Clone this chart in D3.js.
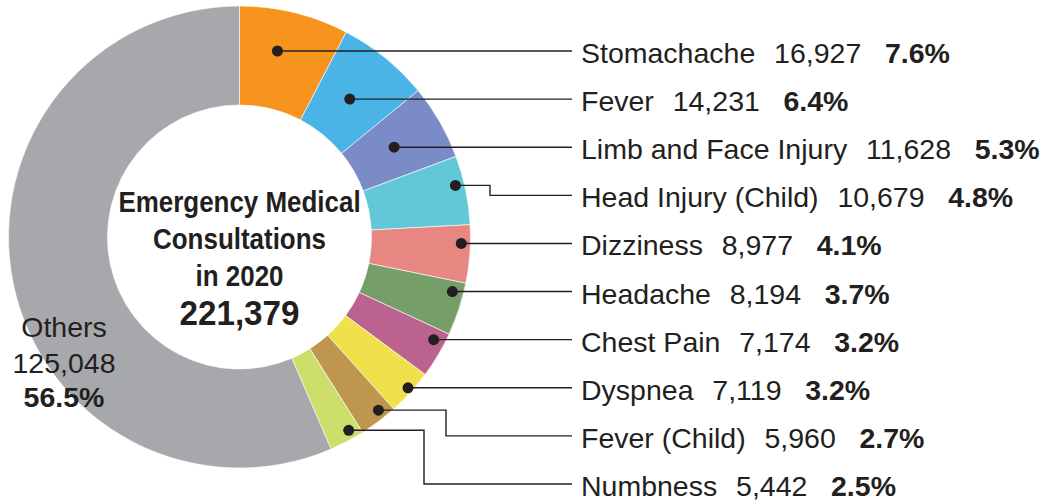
<!DOCTYPE html>
<html>
<head>
<meta charset="utf-8">
<script src="https://cdn.jsdelivr.net/npm/d3@7"></script>
<style>
  html, body { margin: 0; padding: 0; background: #ffffff; }
  svg { display: block; }
  text { font-family: "Liberation Sans", Arial, Helvetica, sans-serif; fill: #231F20; }
</style>
</head>
<body>
<svg id="chart" width="1048" height="501"></svg>
<script>
// ---- data ----
const categories = ["Stomachache", "Fever", "Limb and Face Injury", "Head Injury (Child)", "Dizziness",
  "Headache", "Chest Pain", "Dyspnea", "Fever (Child)", "Numbness", "Others"];
const values = [16927, 14231, 11628, 10679, 8977, 8194, 7174, 7119, 5960, 5442, 125048];
const colors = ["#F7941D", "#4BB4E6", "#7B8BC7", "#62C8D8", "#E78781", "#759E68",
  "#BC628F", "#F0E04B", "#BE964D", "#CEDE6B", "#A7A8AB"];
const centerTitle = ["Emergency Medical", "Consultations", "in 2020"];

// ---- layout ----
const svg = d3.select("#chart");
const cx = 239.5, cy = 237, outerR = 231, innerR = 132;
const fmtNum = d3.format(",");
const fmtPct = d3.format(".1%");
const total = d3.sum(values);

const data = categories.map((c, i) => ({ name: c, value: values[i], color: colors[i], index: i }));

const pie = d3.pie().value(d => d.value).sort(null).startAngle(0).endAngle(2 * Math.PI);
const arcs = pie(data);
const arc = d3.arc().innerRadius(innerR).outerRadius(outerR);

const g = svg.append("g").attr("transform", `translate(${cx},${cy})`);
g.selectAll("path.slice").data(arcs).join("path")
  .attr("class", "slice")
  .attr("d", arc)
  .attr("fill", d => d.data.color)
  .attr("stroke", "#ffffff")
  .attr("stroke-width", 0.6);

// ---- center text ----
const ct = svg.append("g").attr("transform", `translate(${cx},0)`);
const titleY = [212, 249, 286];
centerTitle.forEach((t, i) => {
  ct.append("text")
    .attr("transform", `translate(0,${titleY[i]}) scale(0.88,1)`)
    .attr("text-anchor", "middle")
    .attr("font-size", 29.5)
    .attr("font-weight", "bold")
    .text(t);
});
ct.append("text")
  .attr("transform", `translate(0,325) scale(0.95,1)`)
  .attr("text-anchor", "middle")
  .attr("font-size", 35)
  .attr("font-weight", "bold")
  .text(fmtNum(total));

// ---- labeled slices (all but Others) ----
const labeled = arcs.filter(a => a.data.name !== "Others");
const labelX = 581, lineEndX = 572;
const rowScale = d3.scaleLinear().domain([0, labeled.length - 1]).range([63, 496]);

const deg = Math.PI / 180;
function dotPos(a) {
  const ang = (a.startAngle + a.endAngle) / 2 - 1.7 * deg;
  const share = a.data.value / total;
  const r = share > 0.05 ? (innerR + outerR) / 2 : outerR - 9;
  return [cx + r * Math.sin(ang), cy - r * Math.cos(ang)];
}

labeled.forEach((a, i) => {
  let [dx, dy] = dotPos(a);
  const base = rowScale(i);
  const lineY = base - 12;
  const path = d3.path();
  if (Math.abs(dy - lineY) < 9) {
    dy = lineY;
    path.moveTo(dx, dy);
    path.lineTo(lineEndX, lineY);
  } else {
    const stepX = i < 6 ? 490 : 490 - (i - 6) * 22;
    path.moveTo(dx, dy);
    path.lineTo(stepX, dy);
    path.lineTo(stepX, lineY);
    path.lineTo(lineEndX, lineY);
  }
  svg.append("path")
    .attr("d", path.toString())
    .attr("fill", "none")
    .attr("stroke", "#231F20")
    .attr("stroke-width", 1.4);
  svg.append("circle")
    .attr("cx", dx).attr("cy", dy).attr("r", 5.5)
    .attr("fill", "#231F20");

  const t = svg.append("text")
    .attr("x", labelX).attr("y", base)
    .attr("font-size", 28.5);
  t.append("tspan").text(a.data.name);
  t.append("tspan").attr("dx", "0.66em").text(fmtNum(a.data.value));
  t.append("tspan").attr("dx", "0.83em").attr("font-weight", "bold").text(fmtPct(a.data.value / total));
});

// ---- Others label ----
const others = arcs.find(a => a.data.name === "Others");
const og = svg.append("g").attr("transform", "translate(64,0)");
og.append("text").attr("y", 337).attr("text-anchor", "middle").attr("font-size", 28.5).text(others.data.name);
og.append("text").attr("y", 372.5).attr("text-anchor", "middle").attr("font-size", 28.5).text(fmtNum(others.data.value));
og.append("text").attr("y", 406.5).attr("text-anchor", "middle").attr("font-size", 28.5).attr("font-weight", "bold")
  .text(fmtPct(others.data.value / total));
</script>
</body>
</html>
